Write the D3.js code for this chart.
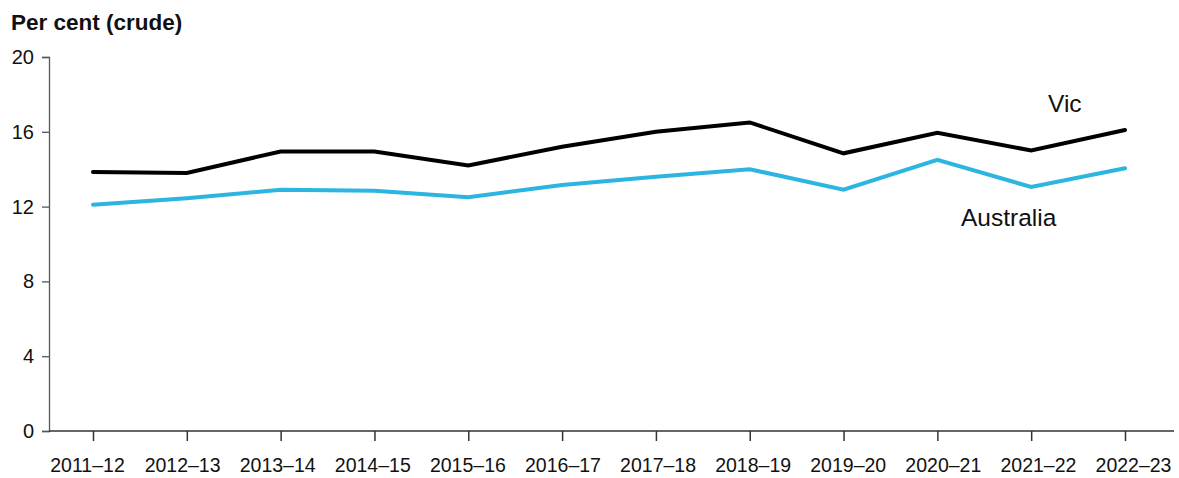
<!DOCTYPE html>
<html>
<head>
<meta charset="utf-8">
<script src="https://cdn.jsdelivr.net/npm/d3@7"></script>
<style>
  body { margin: 0; background: #fff; }
  svg { font-family: "Liberation Sans", Arial, sans-serif; }
</style>
</head>
<body>
<div class="chart"></div>
<script>
// data
var years = ["2011\u201312", "2012\u201313", "2013\u201314", "2014\u201315", "2015\u201316", "2016\u201317",
  "2017\u201318", "2018\u201319", "2019\u201320", "2020\u201321", "2021\u201322", "2022\u201323"];
var vic = [13.85, 13.8, 14.95, 14.95, 14.2, 15.2, 16.0, 16.5, 14.85, 15.95, 15.0, 16.1];
var australia = [12.1, 12.45, 12.9, 12.85, 12.5, 13.15, 13.6, 14.0, 12.9, 14.5, 13.05, 14.05];
var yTicks = [0, 4, 8, 12, 16, 20];

var svgWidth = 1179;
var svgHeight = 478;

var svg = d3.select(".chart")
  .append("svg")
  .attr("width", svgWidth)
  .attr("height", svgHeight);

var xScale = d3.scalePoint().domain(years).range([93, 1125]);
// the category labels sit on a slightly wider spacing than the tick marks
var labelScale = d3.scalePoint().domain(years).range([87, 1133]);
var yScale = d3.scaleLinear().domain([0, 20]).range([431, 57]);

// y axis
var leftAxis = d3.axisLeft(yScale).tickValues(yTicks).tickSize(7).tickPadding(8);
var yAxis = svg.append("g")
  .attr("transform", "translate(49,0)")
  .call(leftAxis);
yAxis.select(".domain").attr("stroke", "#4a5868").attr("stroke-width", 1.3);
yAxis.selectAll(".tick line").attr("stroke", "#4a5868").attr("stroke-width", 1.3);
yAxis.selectAll(".tick text")
  .attr("font-size", 20)
  .attr("fill", "#111")
  .attr("font-family", "Liberation Sans, Arial, sans-serif");

// x axis
var bottomAxis = d3.axisBottom(xScale).tickSize(10).tickPadding(17).tickSizeOuter(0);
var xAxis = svg.append("g")
  .attr("transform", "translate(0,431)")
  .call(bottomAxis);
xAxis.select(".domain").remove();
xAxis.append("line")
  .attr("x1", 49).attr("x2", 1174)
  .attr("stroke", "#333").attr("stroke-width", 1.5);
xAxis.selectAll(".tick line").attr("stroke", "#333").attr("stroke-width", 1.5);
xAxis.selectAll(".tick text")
  .attr("x", function(d) { return labelScale(d) - xScale(d); })
  .attr("font-size", 19.5)
  .attr("fill", "#111")
  .attr("font-family", "Liberation Sans, Arial, sans-serif");

// lines
var line = d3.line()
  .x(function(d, i) { return xScale(years[i]); })
  .y(function(d) { return yScale(d); });

svg.append("path")
  .datum(australia)
  .attr("fill", "none")
  .attr("stroke", "#2bb5e0")
  .attr("stroke-width", 4)
  .attr("stroke-linecap", "round")
  .attr("d", line);

svg.append("path")
  .datum(vic)
  .attr("fill", "none")
  .attr("stroke", "#000")
  .attr("stroke-width", 4)
  .attr("stroke-linecap", "round")
  .attr("d", line);

// series labels
svg.append("text")
  .attr("x", 1048).attr("y", 112)
  .attr("font-size", 24.5)
  .attr("fill", "#111")
  .text("Vic");

svg.append("text")
  .attr("x", 961).attr("y", 226)
  .attr("font-size", 24.5)
  .attr("fill", "#111")
  .text("Australia");

// y axis title
svg.append("text")
  .attr("x", 11).attr("y", 30)
  .attr("font-size", 22.5)
  .attr("font-weight", "bold")
  .attr("fill", "#111")
  .text("Per cent (crude)");
</script>
</body>
</html>
